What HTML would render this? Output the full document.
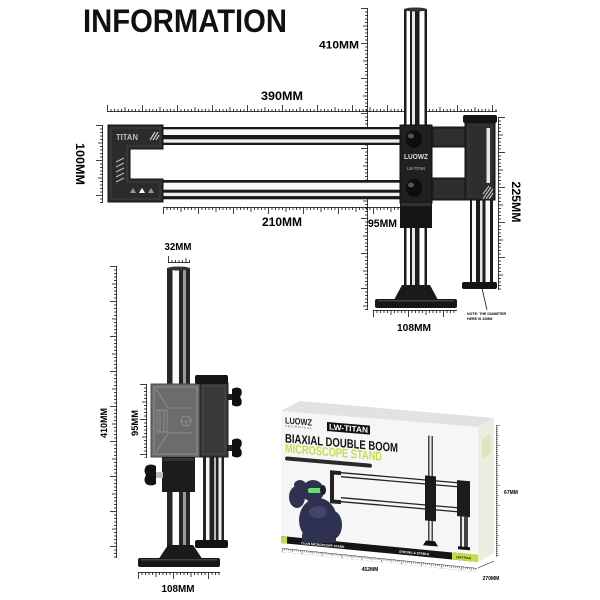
<!DOCTYPE html>
<html><head><meta charset="utf-8"><style>html,body{margin:0;padding:0;background:#fff}svg{display:block}</style></head>
<body>
<svg width="600" height="600" viewBox="0 0 600 600" xmlns="http://www.w3.org/2000/svg" font-family="'Liberation Sans', sans-serif">
<defs>
<pattern id="tk" width="35" height="7" patternUnits="userSpaceOnUse">
<rect x="0" y="6.2" width="35" height="0.8" fill="#111"/>
<path d="M0.5 0V7M4 4V7M7.5 4V7M11 4V7M14.5 4V7M18 2V7M21.5 4V7M25 4V7M28.5 4V7M32 4V7" stroke="#111" stroke-width="0.8"/>
</pattern>
<pattern id="tks" width="20" height="4" patternUnits="userSpaceOnUse">
<rect x="0" y="3.5" width="20" height="0.5" fill="#222"/>
<path d="M0.5 0V4M2.5 2V4M4.5 2V4M6.5 2V4M8.5 2V4M10.5 1V4M12.5 2V4M14.5 2V4M16.5 2V4M18.5 2V4" stroke="#222" stroke-width="0.5"/>
</pattern>
</defs>
<rect width="600" height="600" fill="#fff"/>

<text x="83" y="32" font-size="32" font-weight="bold" textLength="204" lengthAdjust="spacingAndGlyphs" fill="#111">INFORMATION</text>

<!-- ===== TOP VIEW ===== -->
<!-- rulers -->
<g transform="translate(107,112)"><rect x="0" y="-7" width="390" height="7" fill="url(#tk)"/></g>
<g transform="translate(163,207) scale(1,-1)"><rect x="0" y="-7" width="237" height="7" fill="url(#tk)"/></g>
<g transform="translate(368,8) rotate(90) scale(1,-1)"><rect x="0" y="-7" width="302" height="7" fill="url(#tk)"/></g>
<g transform="translate(103,125) rotate(90) scale(1,-1)"><rect x="0" y="-7" width="78" height="7" fill="url(#tk)"/></g>
<g transform="translate(498,117) rotate(90)"><rect x="0" y="-7" width="173" height="7" fill="url(#tk)"/></g>
<g transform="translate(373,310) scale(1,-1)"><rect x="0" y="-7" width="84" height="7" fill="url(#tk)"/></g>

<!-- labels -->
<text x="282" y="100" font-size="11.5" font-weight="bold" text-anchor="middle" textLength="42" lengthAdjust="spacingAndGlyphs">390MM</text>
<text x="282" y="226" font-size="11.5" font-weight="bold" text-anchor="middle" textLength="40" lengthAdjust="spacingAndGlyphs">210MM</text>
<text x="368" y="227" font-size="11" font-weight="bold" textLength="29" lengthAdjust="spacingAndGlyphs">95MM</text>
<text x="319" y="48.5" font-size="11" font-weight="bold" textLength="40" lengthAdjust="spacingAndGlyphs">410MM</text>
<text transform="translate(512,202) rotate(90)" font-size="11.5" font-weight="bold" text-anchor="middle" textLength="41" lengthAdjust="spacingAndGlyphs">225MM</text>
<text transform="translate(76,164) rotate(90)" font-size="11.5" font-weight="bold" text-anchor="middle" textLength="42" lengthAdjust="spacingAndGlyphs">100MM</text>
<text x="414" y="331" font-size="10.5" font-weight="bold" text-anchor="middle" textLength="34" lengthAdjust="spacingAndGlyphs">108MM</text>
<text x="467" y="315" font-size="3.6" font-weight="bold">NOTE: THE DIAMETER</text>
<text x="467" y="320" font-size="3.6" font-weight="bold">HERE IS 32MM</text>
<line x1="476" y1="262" x2="487" y2="310" stroke="#111" stroke-width="0.8"/>

<!-- main post top -->
<rect x="404" y="9" width="23" height="118" fill="#1c1c1c"/>
<rect x="406.5" y="11" width="3.5" height="116" fill="#fff"/>
<rect x="412" y="11" width="3" height="116" fill="#e6e6e6"/>
<rect x="419.5" y="11" width="5" height="116" fill="#fff"/>
<ellipse cx="415.5" cy="9.5" rx="11.5" ry="2" fill="#333"/>
<!-- main post lower -->
<rect x="404" y="226" width="23" height="62" fill="#1c1c1c"/>
<rect x="406.5" y="228" width="3.5" height="58" fill="#fff"/>
<rect x="412" y="228" width="3" height="58" fill="#e6e6e6"/>
<rect x="419.5" y="228" width="5" height="58" fill="#fff"/>

<!-- arms -->
<rect x="160" y="127" width="242" height="18" fill="#1a1a1a"/>
<rect x="160" y="129.3" width="242" height="5.7" fill="#fafafa"/>
<rect x="160" y="139.3" width="242" height="3.4" fill="#eee"/>
<rect x="160" y="180" width="242" height="19.3" fill="#1a1a1a"/>
<rect x="160" y="182.7" width="242" height="7" fill="#fafafa"/>
<rect x="160" y="192.7" width="242" height="3.4" fill="#eee"/>

<!-- left C block -->
<path d="M108 125H163V149H130V179H163V202H108Z" fill="#2b2b2b" stroke="#111" stroke-width="1"/>
<path d="M111 128H160V146H127V182H160V199H111Z" fill="none" stroke="#4a4a4a" stroke-width="0.8"/>
<text x="116" y="140" font-size="8.5" font-weight="bold" fill="#bdbdbd" textLength="22" lengthAdjust="spacingAndGlyphs">TITAN</text>
<path d="M150 140l5-8M153 140l5-8M156 140l3-5" stroke="#ccc" stroke-width="1.2"/>
<path d="M116 162l8-4M116 167l8-4M116 172l8-4M116 177l8-4M116 182l8-4" stroke="#bbb" stroke-width="1.2"/>
<path d="M130 193l3-5 3 5zM139 193l3-5 3 5zM148 193l3-5 3 5z" fill="#999"/>
<path d="M139 193l3-5 3 5z" fill="#fff"/>

<!-- center block -->
<rect x="400" y="125" width="32" height="78" fill="#202020" stroke="#111"/>
<ellipse cx="414" cy="139" rx="8" ry="9" fill="#0d0d0d"/>
<ellipse cx="411" cy="136" rx="3" ry="2.5" fill="#555"/>
<ellipse cx="414" cy="188" rx="8" ry="9" fill="#0d0d0d"/>
<ellipse cx="411" cy="185" rx="3" ry="2.5" fill="#555"/>
<text x="416" y="159" font-size="7" font-weight="bold" fill="#ddd" text-anchor="middle" textLength="24" lengthAdjust="spacingAndGlyphs">LUOWZ</text>
<text x="416" y="170" font-size="4.5" font-weight="bold" fill="#999" text-anchor="middle" textLength="18" lengthAdjust="spacingAndGlyphs">LW-TITAN</text>
<rect x="400" y="203" width="32" height="25" fill="#161616"/>
<rect x="401" y="203" width="30" height="3" fill="#333"/>

<!-- connecting bars -->
<rect x="432" y="127" width="35" height="20" fill="#262626" stroke="#111"/>
<rect x="435" y="130" width="30" height="14" fill="#2e2e2e" stroke="#3e3e3e" stroke-width="0.6"/>
<rect x="432" y="178" width="35" height="22" fill="#262626" stroke="#111"/>
<rect x="435" y="181" width="30" height="16" fill="#2e2e2e" stroke="#3e3e3e" stroke-width="0.6"/>

<!-- right vertical block -->
<rect x="470" y="200" width="23" height="82" fill="#1c1c1c"/>
<rect x="472" y="200" width="4" height="82" fill="#fafafa"/>
<rect x="480" y="200" width="2.5" height="82" fill="#e4e4e4"/>
<rect x="485.5" y="200" width="4.5" height="82" fill="#fafafa"/>
<rect x="465" y="122" width="30" height="78" fill="#262626" stroke="#111"/>
<rect x="468" y="125" width="24" height="72" fill="#2e2e2e" stroke="#444" stroke-width="0.6"/>
<rect x="486.5" y="128" width="3.5" height="55" fill="#e8e8e8"/>
<path d="M483 199l8-12M486 199l7-10M483 194l6-8M489 199l4-6" stroke="#ddd" stroke-width="1"/>
<rect x="463" y="115" width="34" height="8" rx="2" fill="#141414"/>
<rect x="462" y="282" width="35" height="7" rx="2" fill="#141414"/>

<!-- base -->
<path d="M402 285H430L438 300H394Z" fill="#1a1a1a"/>
<rect x="375" y="299" width="82" height="9" rx="2" fill="#161616"/>
<rect x="378" y="300" width="76" height="1.5" fill="#444"/>

<!-- ===== SIDE VIEW ===== -->
<g transform="translate(168,263)"><rect x="0" y="-7" width="22" height="7" fill="url(#tk)"/></g>
<g transform="translate(117,266) rotate(90) scale(1,-1)"><rect x="0" y="-7" width="292" height="7" fill="url(#tk)"/></g>
<g transform="translate(147,384) rotate(90) scale(1,-1)"><rect x="0" y="-7" width="74" height="7" fill="url(#tk)"/></g>
<g transform="translate(138,572) scale(1,-1)"><rect x="0" y="-7" width="82" height="7" fill="url(#tk)"/></g>
<text x="178" y="250" font-size="10" font-weight="bold" text-anchor="middle" textLength="27" lengthAdjust="spacingAndGlyphs">32MM</text>
<text transform="translate(107,423) rotate(-90)" font-size="9.5" font-weight="bold" text-anchor="middle" textLength="30" lengthAdjust="spacingAndGlyphs">410MM</text>
<text transform="translate(138,423) rotate(-90)" font-size="9.5" font-weight="bold" text-anchor="middle" textLength="26" lengthAdjust="spacingAndGlyphs">95MM</text>
<text x="178" y="592" font-size="10" font-weight="bold" text-anchor="middle" textLength="33" lengthAdjust="spacingAndGlyphs">108MM</text>

<!-- post -->
<rect x="167" y="268" width="23" height="118" fill="#262626"/>
<rect x="172.5" y="270" width="6.5" height="116" fill="#fafafa"/>
<rect x="183" y="270" width="3" height="116" fill="#9a9a9a"/>
<ellipse cx="178.5" cy="268.5" rx="11.5" ry="2" fill="#333"/>
<rect x="167" y="490" width="23" height="57" fill="#262626"/>
<rect x="172.5" y="490" width="6.5" height="57" fill="#fafafa"/>
<rect x="183" y="490" width="3" height="57" fill="#9a9a9a"/>
<!-- right rods -->
<rect x="203" y="455" width="21" height="86" fill="#222"/>
<rect x="206" y="455" width="3.5" height="86" fill="#f5f5f5"/>
<rect x="214" y="455" width="2" height="86" fill="#bbb"/>
<rect x="218.5" y="455" width="3" height="86" fill="#f0f0f0"/>
<rect x="195" y="540" width="33" height="8" rx="2" fill="#141414"/>
<!-- grey block -->
<rect x="151" y="384" width="49" height="73" fill="#6c6c6c" stroke="#4a4a4a"/>
<g stroke="#a4a4a4" stroke-width="0.6" fill="none">
<rect x="154" y="387" width="43" height="67"/>
<path d="M156 389L168 408H192M156 452L168 433H192"/>
<rect x="157" y="410" width="10" height="22"/>
<path d="M160 410V432M164 410V432"/>
<circle cx="186" cy="421" r="5"/>
<path d="M181 421H191M186 421V426"/>
</g>
<!-- right panel -->
<rect x="200" y="383" width="28" height="74" fill="#383838" stroke="#1c1c1c"/>
<rect x="203" y="386" width="22" height="68" fill="none" stroke="#555" stroke-width="0.7"/>
<rect x="195" y="375" width="33" height="9" rx="2" fill="#151515"/>
<!-- knobs -->
<rect x="227" y="394" width="6" height="6" fill="#222"/>
<path d="M232 389q5-3 9 0q2 4-1 8q3 4 1 8q-4 3-9 0z" fill="#111"/>
<rect x="227" y="445" width="6" height="6" fill="#222"/>
<path d="M232 440q5-3 9 0q2 4-1 8q3 4 1 8q-4 3-9 0z" fill="#111"/>
<!-- collar -->
<rect x="162" y="457" width="33" height="35" fill="#1c1c1c"/>
<rect x="163" y="458" width="31" height="3" fill="#333"/>
<rect x="156" y="472" width="7" height="6" fill="#bbb"/>
<path d="M156 466q-5-3-10 0q-3 5 0 9q-3 5 0 9q5 3 10 0z" fill="#111"/>
<!-- base -->
<path d="M168 545H193L203 560H158Z" fill="#1a1a1a"/>
<rect x="138" y="558" width="82" height="9" rx="2" fill="#161616"/>
<rect x="141" y="559" width="76" height="1.5" fill="#444"/>

<!-- ===== BOX ===== -->
<polygon points="281,411 300,401 494,418 478,427" fill="#e2e2e2"/>
<polygon points="478,427 494,418 494,553 478,562" fill="#ecedde"/>
<rect x="482" y="440" width="9" height="20" fill="#dfe3bf" transform="skewY(-25) translate(0,223)"/>
<polygon points="281,411 478,427 478,562 281,543" fill="#f6f6f6"/>
<polygon points="281,536 478,555 478,562 281,543" fill="#151515"/>
<polygon points="281,536 287,536.6 287,543.6 281,543" fill="#c6dc43"/>
<polygon points="452,552.5 478,555 478,562 452,559.5" fill="#c6dc43"/>

<g transform="translate(281,411) skewY(4.93)">
<text x="4" y="12" font-size="9" font-weight="bold" fill="#222" textLength="27" lengthAdjust="spacingAndGlyphs">LUOWZ</text>
<text x="4" y="15.5" font-size="2.6" fill="#444" textLength="27" lengthAdjust="spacingAndGlyphs">T E C H N I C A L</text>
<rect x="46" y="7" width="43" height="9" fill="#111"/>
<text x="67.5" y="14.3" font-size="8" font-weight="bold" fill="#fff" text-anchor="middle" textLength="39" lengthAdjust="spacingAndGlyphs">LW-TITAN</text>
<text x="4" y="31" font-size="12.5" font-weight="bold" fill="#111" textLength="113" lengthAdjust="spacingAndGlyphs">BIAXIAL DOUBLE BOOM</text>
<text x="4" y="41" font-size="12.5" font-weight="bold" fill="#c9dc4c" textLength="97" lengthAdjust="spacingAndGlyphs">MICROSCOPE STAND</text>
<rect x="4" y="45" width="87" height="4" rx="2" fill="#2a2a2a"/>
<!-- printed stand -->
<rect x="147" y="12" width="5" height="108" fill="#444"/>
<rect x="148.5" y="12" width="2" height="108" fill="#eee"/>
<path d="M49 55H60V59H53V84H60V88H49Z" fill="#222"/>
<path d="M60 56.5H178M60 60.5H178M60 81.5H178M60 85.5H178" stroke="#222" stroke-width="1.3"/>
<rect x="144" y="52" width="11" height="45" fill="#1a1a1a"/>
<rect x="176" y="54" width="13" height="36" fill="#1c1c1c"/>
<rect x="179" y="90" width="8" height="32" fill="#444"/>
<rect x="181" y="90" width="2" height="32" fill="#eee"/>
<rect x="177" y="120" width="12" height="3" fill="#111"/>
<path d="M142 122L145 117H154L157 122Z" fill="#111"/>
<text x="20" y="131.5" font-size="3.2" font-weight="bold" fill="#fff">TITAN MICROSCOPE STAND</text>
<text x="118" y="131.5" font-size="3.2" font-weight="bold" fill="#fff">STRONG &amp; STABLE</text>
<text x="175" y="132" font-size="3.2" font-weight="bold" fill="#111">LW-TITAN</text>
</g>

<!-- gorilla -->
<g fill="#2f3150">
<ellipse cx="318" cy="520" rx="19" ry="22"/>
<ellipse cx="313" cy="491" rx="11" ry="11"/>
<ellipse cx="297" cy="497" rx="8" ry="11"/>
<ellipse cx="300" cy="485" rx="6" ry="5"/>
<ellipse cx="333" cy="525" rx="9" ry="14"/>
<rect x="302" y="532" width="34" height="11" rx="3"/>
</g>
<rect x="308" y="488" width="14" height="5" rx="2" fill="#5fe36c"/>
<ellipse cx="323" cy="490" rx="3" ry="5" fill="#1c1d33"/>
<ellipse cx="318" cy="512" rx="9" ry="6" fill="#44476b"/>

<!-- box rulers -->
<g transform="translate(282,548) rotate(5.86) scale(1,-1)"><rect x="0" y="-4" width="196" height="4" fill="url(#tks)"/></g>
<g transform="translate(496,425) rotate(90)"><rect x="0" y="-4" width="132" height="4" fill="url(#tks)"/></g>
<line x1="478" y1="568" x2="494" y2="561" stroke="#222" stroke-width="0.6"/>
<text x="370" y="571" font-size="5" font-weight="bold" text-anchor="middle">452MM</text>
<text x="511" y="494" font-size="5" font-weight="bold" text-anchor="middle">67MM</text>
<text x="491" y="580" font-size="5" font-weight="bold" text-anchor="middle">270MM</text>
</svg>
</body></html>
